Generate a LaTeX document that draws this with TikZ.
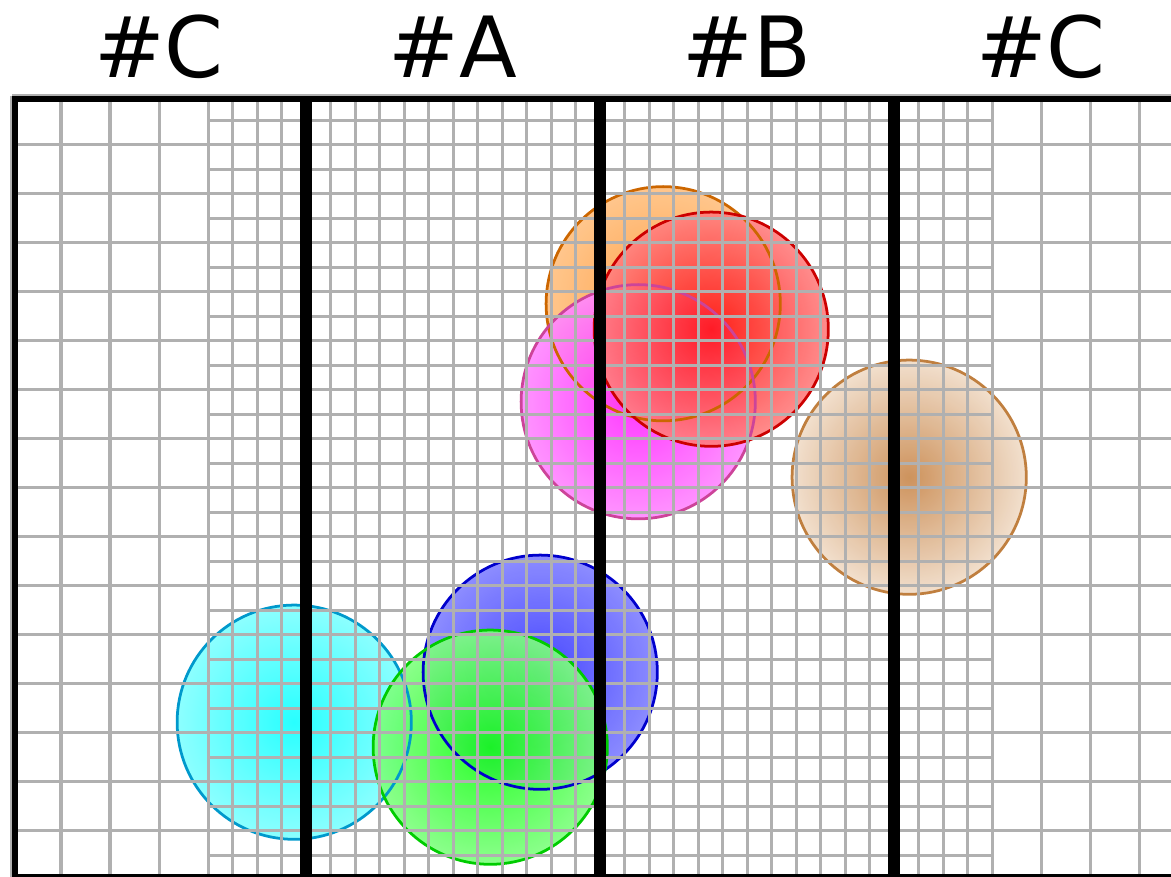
\documentclass[tikz,border=0pt]{standalone}
\usepackage{fontspec}
\setmainfont{DejaVu Sans}

% grid and frame colours
\definecolor{gridgrey}{RGB}{176,176,176}
% disc colours: In = centre, Out = rim, Ln = outline
\definecolor{orngIn}{RGB}{255,150,50}
\definecolor{orngOut}{RGB}{255,192,128}
\definecolor{orngLn}{RGB}{204,102,0}
\definecolor{redIn}{RGB}{255,17,17}
\definecolor{redOut}{RGB}{255,128,128}
\definecolor{redLn}{RGB}{204,0,0}
\definecolor{magIn}{RGB}{255,34,255}
\definecolor{magOut}{RGB}{255,136,255}
\definecolor{magLn}{RGB}{204,68,153}
\definecolor{tanIn}{RGB}{200,135,75}
\definecolor{tanOut}{RGB}{240,220,200}
\definecolor{tanLn}{RGB}{192,127,63}
\definecolor{cyanIn}{RGB}{17,255,255}
\definecolor{cyanOut}{RGB}{128,255,255}
\definecolor{cyanLn}{RGB}{0,153,204}
\definecolor{bluIn}{RGB}{51,51,255}
\definecolor{bluOut}{RGB}{128,128,255}
\definecolor{bluLn}{RGB}{0,0,204}
\definecolor{grnIn}{RGB}{17,255,17}
\definecolor{grnOut}{RGB}{128,255,128}
\definecolor{grnLn}{RGB}{0,204,0}

\begin{document}
\begin{tikzpicture}[x=1cm, y=1cm,
  gridline/.style={draw=gridgrey, line width=1.75pt},
  column/.style={draw=black, line width=3.6pt},
  disc/.style={line width=1.6pt},
  tag/.style={font=\fontsize{49}{50}\selectfont, anchor=base}]

% Fix the frame of the picture
\useasboundingbox (-0.245,0.061) rectangle (23.653,17.959);
\clip (-0.245,0.061) rectangle (23.653,17.959);

% Shaded discs
\foreach \cx/\cy/\c in {13.29/11.76/orng, 12.78/9.76/mag, 14.27/11.24/red,
                        18.31/8.22/tan, 5.76/3.22/cyan, 10.78/4.24/blu, 9.76/2.71/grn}
  \shade[inner color=\c In, outer color=\c Out, fill opacity=0.9] (\cx,\cy) circle (2.39);

% Disc outlines
\foreach \cx/\cy/\c in {13.29/11.76/orng, 12.78/9.76/mag, 14.27/11.24/red,
                        18.31/8.22/tan, 5.76/3.22/cyan, 10.78/4.24/blu, 9.76/2.71/grn}
  \draw[disc, draw=\c Ln] (\cx,\cy) circle (2.39);

% Coarse and fine grids
\draw[gridline] (0,0) grid (24,16);
\draw[gridline, step=0.5] (4,0) grid (20,16);

% Column frames
\foreach \k in {0,...,3}
  \draw[column] (6*\k+0.063,0.063) rectangle (6*\k+5.937,15.937);

% Column labels
\node[tag] (labC) at (3,16.37) {\#C};
\node[tag] (labA) at (9,16.37) {\#A};
\node[tag] (labB) at (15,16.37) {\#B};
\node[tag] (labCC) at (21,16.37) {\#C};

\end{tikzpicture}
\end{document}
